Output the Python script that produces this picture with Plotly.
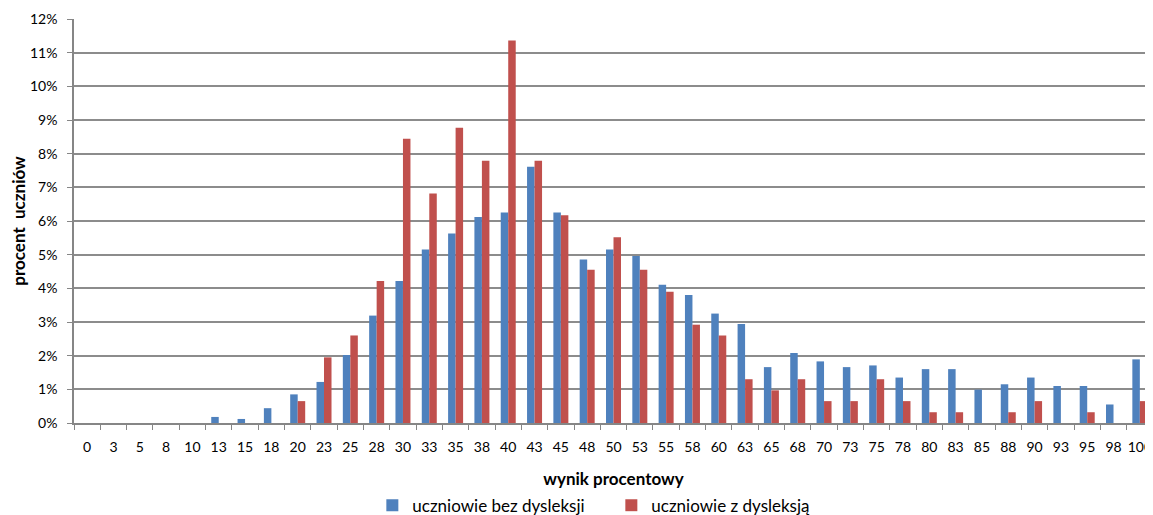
import plotly.graph_objects as go

# wynik procentowy (score categories)
categories = ["0", "3", "5", "8", "10", "13", "15", "18", "20", "23", "25", "28", "30",
              "33", "35", "38", "40", "43", "45", "48", "50", "53", "55", "58", "60",
              "63", "65", "68", "70", "73", "75", "78", "80", "83", "85", "88", "90",
              "93", "95", "98", "100"]

# percent of students (as fractions)
bez_dysleksji = [0, 0, 0, 0, 0, 0.0018, 0.0012, 0.0044, 0.0085, 0.0122, 0.0202, 0.0319,
                 0.0422, 0.0515, 0.0563, 0.0612, 0.0625, 0.0761, 0.0625, 0.0486, 0.0515,
                 0.0496, 0.0411, 0.0380, 0.0325, 0.0294, 0.0166, 0.0208, 0.0183, 0.0166,
                 0.0171, 0.0135, 0.0160, 0.0160, 0.0099, 0.0115, 0.0135, 0.0110, 0.0110,
                 0.0055, 0.0189]

z_dysleksja = [0, 0, 0, 0, 0, 0, 0, 0, 0.0065, 0.0195, 0.0260, 0.0422, 0.0844, 0.0682,
               0.0877, 0.0779, 0.1136, 0.0779, 0.0617, 0.0455, 0.0552, 0.0455, 0.0390,
               0.0292, 0.0260, 0.0130, 0.0097, 0.0130, 0.0065, 0.0065, 0.0130, 0.0065,
               0.0032, 0.0032, 0, 0.0032, 0.0065, 0, 0.0032, 0, 0.0065]

y_ticks = [i / 100 for i in range(0, 13)]

font = "Lato, 'Open Sans', sans-serif"

fig = go.Figure()
fig.add_trace(go.Bar(x=categories, y=bez_dysleksji, name="uczniowie bez dysleksji",
                     marker=dict(color="#4F81BD", line=dict(width=0))))
fig.add_trace(go.Bar(x=categories, y=z_dysleksja, name="uczniowie z dysleksją",
                     marker=dict(color="#C0504D", line=dict(width=0))))

# page body adds an 8px margin, so the figure is a bit smaller than the window
fig.update_layout(
    width=1145, height=507,
    margin=dict(l=66, r=0, t=11, b=92, autoexpand=False),
    paper_bgcolor="white", plot_bgcolor="white",
    barmode="group", bargap=0.43, bargroupgap=0,
    font=dict(family=font, size=14, color="black"),
    showlegend=True,
    legend=dict(orientation="h", x=0.498, xanchor="center", y=-0.16, yanchor="top",
                font=dict(size=17), entrywidth=194, itemwidth=30),
)

fig.update_xaxes(
    type="category", range=[-0.5, 40.5], automargin=True,
    showline=True, linecolor="#868686", linewidth=1.5,
    ticks="outside", tickson="boundaries", ticklen=5, tickcolor="#868686",
    showgrid=False, tickangle=0, ticklabelstandoff=10,
    title=dict(text="<b>wynik procentowy</b>", font=dict(size=17), standoff=20),
)

fig.update_yaxes(
    range=[0, 0.12], tickvals=y_ticks, tickformat=".0%", automargin=False,
    showline=True, linecolor="#868686", linewidth=1.5,
    ticks="outside", ticklen=5, tickcolor="#868686", ticklabelstandoff=7,
    showgrid=True, gridcolor="#8C8C8C", gridwidth=1.5,
    title=dict(text="<b>procent  uczniów</b>", font=dict(size=17), standoff=3),
)

fig.write_html("out.html")
